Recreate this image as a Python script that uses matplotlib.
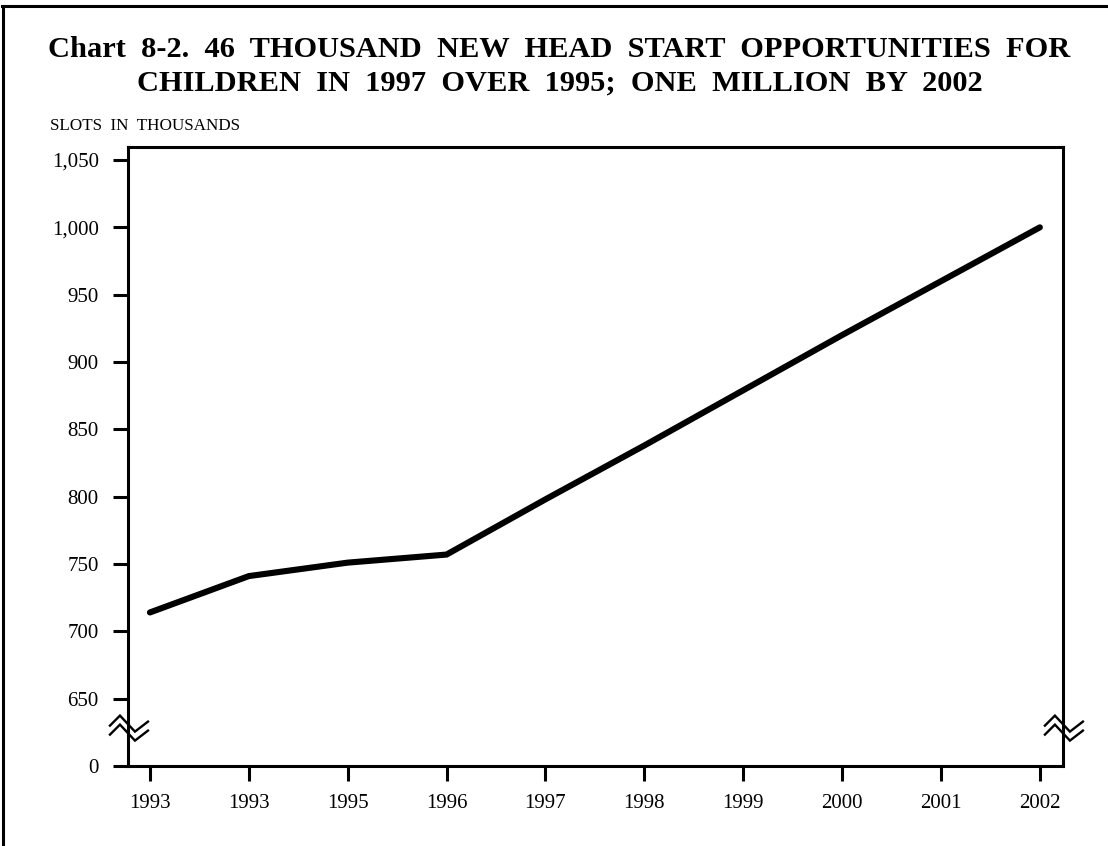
import numpy as np
import matplotlib
matplotlib.use("Agg")
import matplotlib.pyplot as plt
from matplotlib.lines import Line2D
from matplotlib.transforms import ScaledTranslation

# ── data ──────────────────────────────────────────────────────
year_labels = ['1993', '1993', '1995', '1996', '1997',
               '1998', '1999', '2000', '2001', '2002']
slots       = [714, 741, 751, 757, 798, 838, 879, 920, 960, 1000]

y_ticks     = [600, 650, 700, 750, 800, 850, 900, 950, 1000, 1050]
y_labels    = ['0'] + [f'{v:,}' for v in y_ticks[1:]]   # axis is broken below 650

plt.rcParams['font.family'] = ['Liberation Serif', 'DejaVu Serif']

# ── figure ────────────────────────────────────────────────────
fig = plt.figure(figsize=(11.08, 8.46), dpi=100)
fig.patch.set_facecolor('white')

ax = fig.add_axes([0.1155, 0.0946, 0.8438, 0.7317])
x = np.arange(len(slots))
ax.plot(x, slots, color='black', lw=4.4, solid_capstyle='round',
        solid_joinstyle='miter')

ax.set_xlim(-0.222, 9.233)
ax.set_ylim(600, 1059.7)
ax.set_xticks(x)
ax.set_xticklabels(year_labels)
ax.set_yticks(y_ticks)
ax.set_yticklabels(y_labels)
ax.tick_params(axis='both', direction='out', length=11, width=2.2,
               labelsize=15, color='black')
ax.tick_params(axis='y', pad=10)
ax.tick_params(axis='x', pad=9)
for sp in ax.spines.values():
    sp.set_linewidth(2.2)
    sp.set_color('black')

# axis-break zigzags on both vertical spines; shape in inches around an anchor
zz_x = np.array([-0.18, -0.08, 0.07, 0.20])
zz_y = np.array([0.04, 0.14, -0.02, 0.08])
for xa in (0.0, 1.0):
    tr = fig.dpi_scale_trans + ScaledTranslation(xa, 627, ax.get_yaxis_transform())
    for dy in (0.0, -0.09):
        ax.plot(zz_x, zz_y + dy, transform=tr, color='black', lw=1.7,
                clip_on=False, solid_joinstyle='miter')

# ── text ──────────────────────────────────────────────────────
fig.text(0.5045, 1 - 57 / 846,
         'Chart  8-2.  46  THOUSAND  NEW  HEAD  START  OPPORTUNITIES  FOR',
         ha='center', va='baseline', fontsize=21.9, fontweight='bold')
fig.text(0.5055, 1 - 91 / 846,
         'CHILDREN  IN  1997  OVER  1995;  ONE  MILLION  BY  2002',
         ha='center', va='baseline', fontsize=21.9, fontweight='bold')
fig.text(50 / 1108, 1 - 130 / 846, 'SLOTS  IN  THOUSANDS',
         ha='left', va='baseline', fontsize=12.3)

# outer frame: left and top edges only
fig.add_artist(Line2D([3.5 / 1108, 3.5 / 1108], [0, 1 - 6.5 / 846],
                      transform=fig.transFigure, color='black', lw=2.2))
fig.add_artist(Line2D([2 / 1108, 1], [1 - 6.5 / 846, 1 - 6.5 / 846],
                      transform=fig.transFigure, color='black', lw=2.2))

fig.savefig('out.png', dpi=100)
